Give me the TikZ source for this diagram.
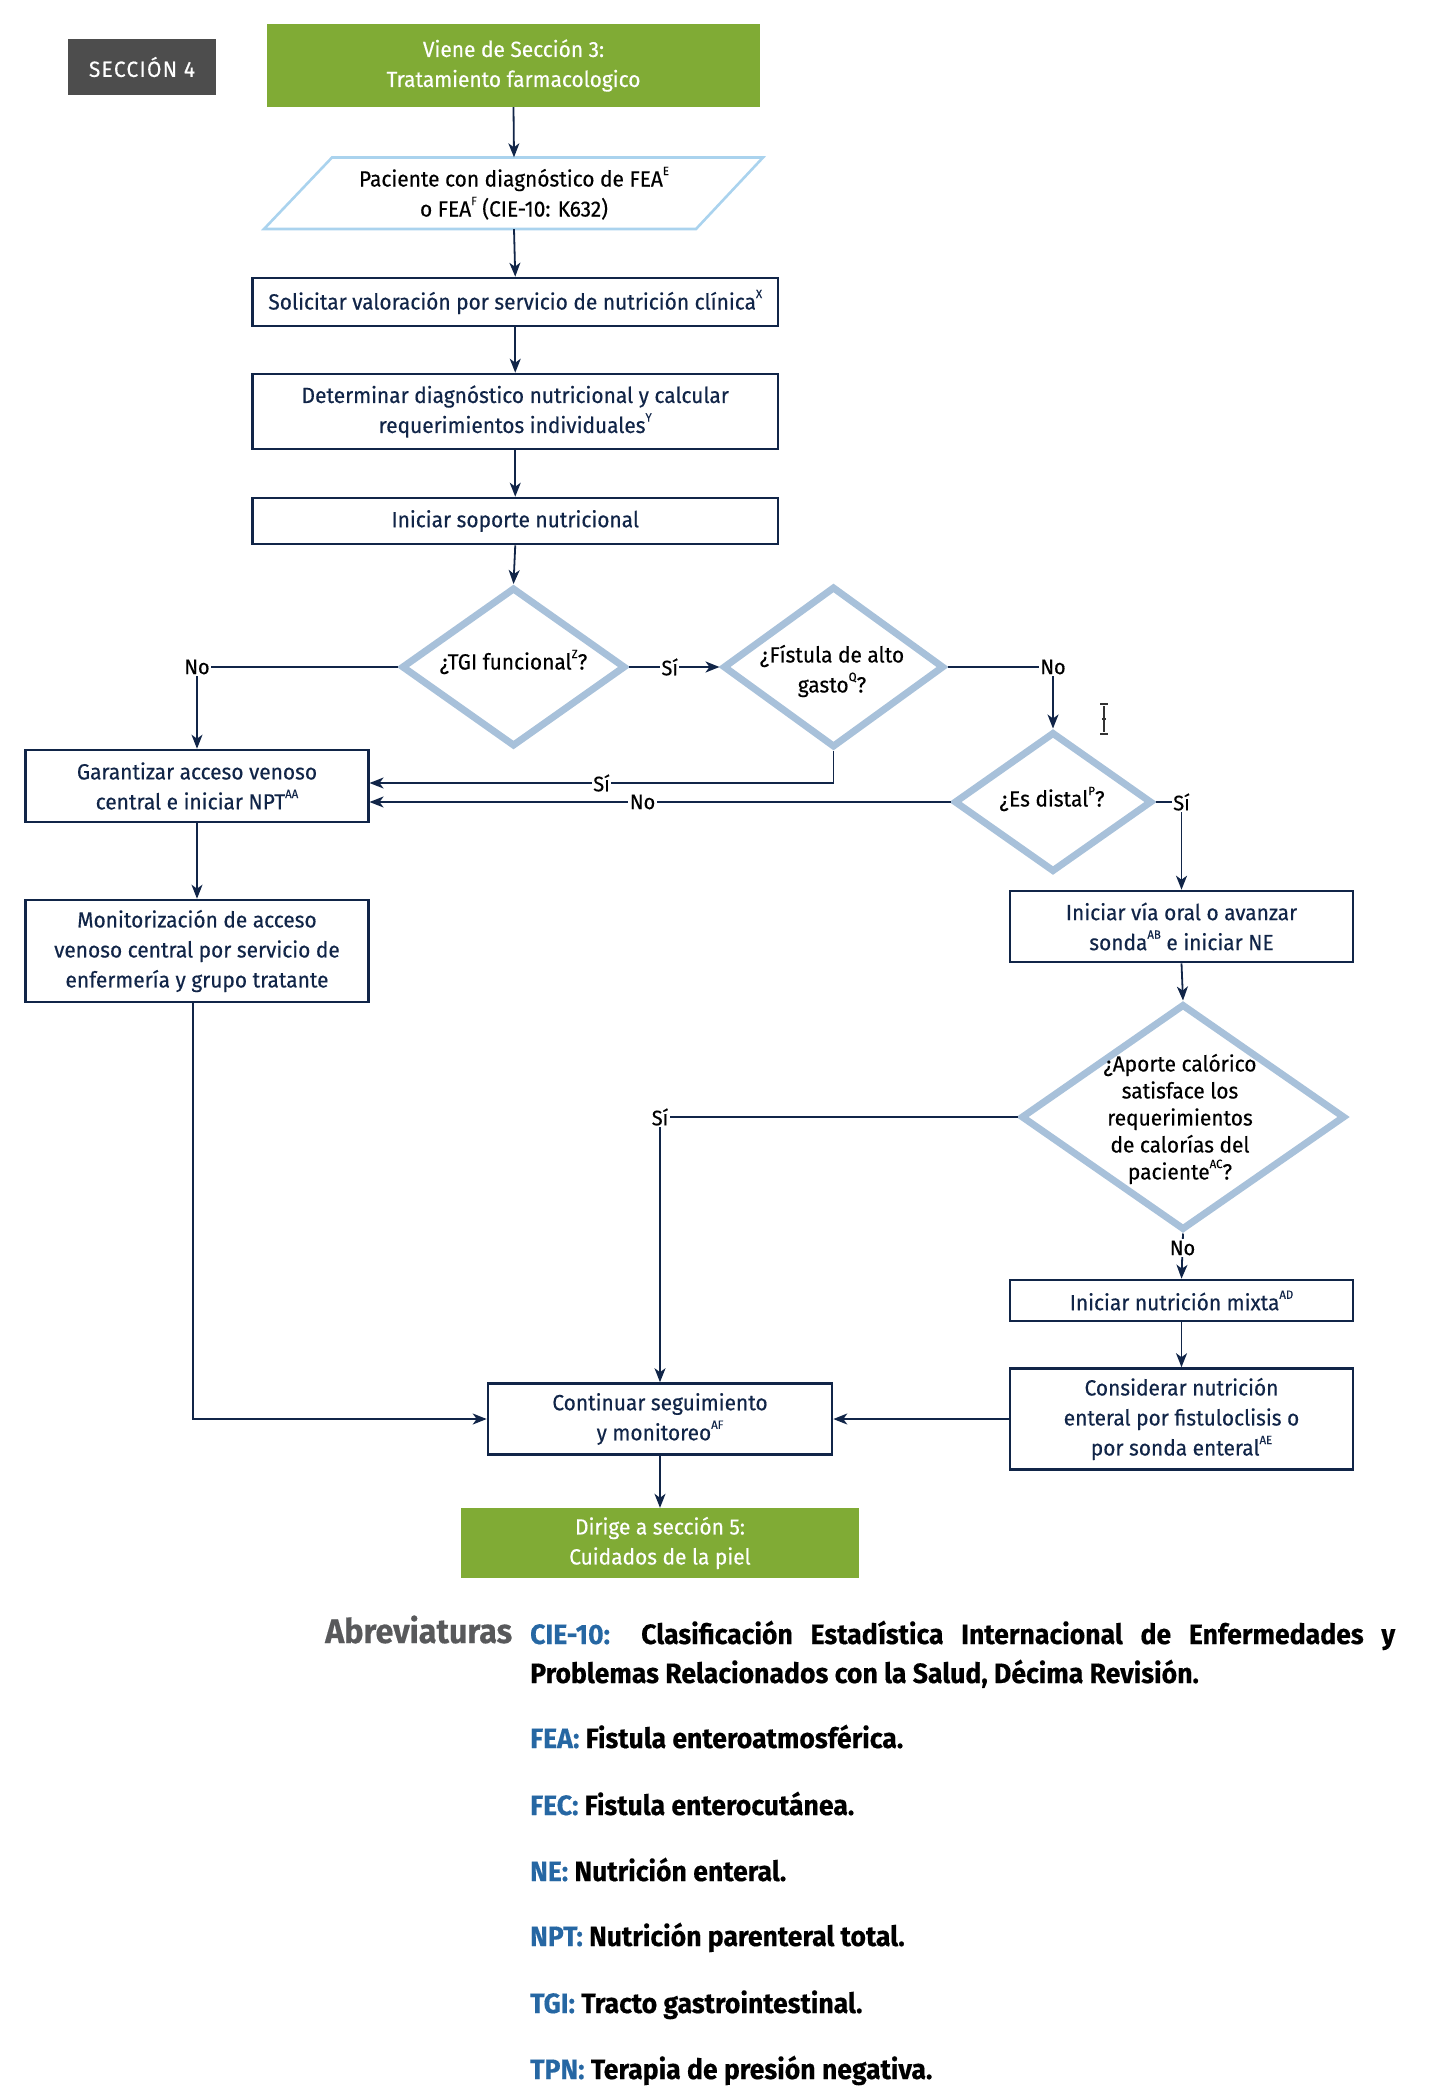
\documentclass[tikz,border=0pt]{standalone}
\usepackage{fontspec}
\setmainfont{Fira Sans}[FakeStretch=0.95,FakeBold=0.4]
\usetikzlibrary{shapes.geometric,arrows.meta,calc}
\definecolor{navy}{RGB}{17,37,72}
\definecolor{dia}{RGB}{168,193,218}
\definecolor{parac}{RGB}{170,211,238}
\definecolor{grn}{RGB}{128,171,53}
\definecolor{secgray}{RGB}{77,77,77}
\definecolor{abblue}{RGB}{38,103,163}
\definecolor{abgray}{RGB}{88,89,91}
\newcommand{\spr}[1]{\raisebox{0.52em}{\fontsize{12}{12}\selectfont #1}}
\begin{document}
\begin{tikzpicture}[x=1pt,y=-1pt,
  every node/.style={font=\fontsize{22}{30}\selectfont},
  box/.style={draw=navy,line width=2.6pt,fill=white,align=center,inner sep=0pt,text=navy},
  gbox/.style={fill=grn,align=center,inner sep=0pt,text=white},
  dshape/.style={diamond,draw=dia,line width=7pt,inner sep=0pt,aspect=1},
  dtext/.style={align=center,inner sep=0pt,text=black},
  arr/.style={draw=navy,line width=1.8pt,-{Stealth[length=14pt,width=11pt,inset=4pt]}},
  lbl/.style={fill=white,inner sep=1.5pt,text=black,font=\fontsize{21}{24}\selectfont},
  abr/.style={anchor=base west,inner sep=0pt,text=black,font=\fontsize{28}{32}\selectfont\bfseries},
]
\useasboundingbox (0,0) rectangle (1430,2100);

% header
\node[gbox,fill=secgray,minimum width=148pt,minimum height=56pt,font=\fontsize{22}{24}\selectfont\addfontfeature{LetterSpace=6}] (sec) at (142,67) {SECCIÓN 4};
\node[gbox,minimum width=493pt,minimum height=83pt] (top) at (513.5,65.5) {Viene de Sección 3:\\Tratamiento farmacologico};

% parallelogram
\draw[draw=parac,line width=2.6pt] (332,157.5) -- (763,157.5) -- (696,229) -- (264,229) -- cycle;
\node[dtext,minimum width=430pt,minimum height=71.5pt] (pat) at (514,193.25) {Paciente con diagnóstico de FEA\spr{E}\\o FEA\spr{F} (CIE-10: K632)};

% boxes
\node[box,minimum width=525.5pt,minimum height=48pt] (sol) at (515.25,302) {Solicitar valoración por servicio de nutrición clínica\spr{X}};
\node[box,minimum width=525.5pt,minimum height=75pt] (det) at (515.25,411.5) {Determinar diagnóstico nutricional y calcular\\requerimientos individuales\spr{Y}};
\node[box,minimum width=525.5pt,minimum height=46pt] (ini) at (515.25,521) {Iniciar soporte nutricional};

% diamonds
\node[dshape,minimum width=224pt,minimum height=159pt] (tgi) at (513.5,667) {};
\node[dtext] (tgit) at (513.5,662) {¿TGI funcional\spr{Z}?};
\node[dshape,minimum width=221pt,minimum height=161pt] (fis) at (833.5,667) {};
\node[dtext] (fist) at (832,671) {¿Fístula de alto\\gasto\spr{Q}?};
\node[dshape,minimum width=198pt,minimum height=140pt] (es) at (1053,802) {};
\node[dtext] (est) at (1052,799) {¿Es distal\spr{P}?};
\node[dshape,minimum width=324pt,minimum height=226pt] (apo) at (1183,1117) {};
\node[dtext,font=\fontsize{22}{27}\selectfont] (apot) at (1180,1119) {¿Aporte calórico\\satisface los\\requerimientos\\de calorías del\\paciente\spr{AC}?};

% left column
\node[box,minimum width=342.5pt,minimum height=72pt] (gar) at (197,786) {Garantizar acceso venoso\\central e iniciar NPT\spr{AA}};
\node[box,minimum width=342.5pt,minimum height=102pt] (mon) at (197,951) {Monitorización de acceso\\venoso central por servicio de\\enfermería y grupo tratante};

% right column
\node[box,minimum width=343pt,minimum height=71pt] (via) at (1181.5,926.5) {Iniciar vía oral o avanzar\\sonda\spr{AB} e iniciar NE};
\node[box,minimum width=343pt,minimum height=41pt] (mix) at (1181.5,1300.5) {Iniciar nutrición mixta\spr{AD}};
\node[box,minimum width=343pt,minimum height=101pt] (cons) at (1181.5,1419) {Considerar nutrición\\enteral por fistuloclisis o\\por sonda enteral\spr{AE}};

% bottom
\node[box,minimum width=344pt,minimum height=71pt] (cont) at (660,1419) {Continuar seguimiento\\y monitoreo\spr{AF}};
\node[gbox,minimum width=398pt,minimum height=70pt] (bot) at (660,1543) {Dirige a sección 5:\\Cuidados de la piel};

% connectors
\draw[arr] (top.south) -- (pat.north);
\draw[arr] (pat.south) -- (sol.north);
\draw[arr] (sol.south) -- (det.north);
\draw[arr] (det.south) -- (ini.north);
\draw[arr] (ini.south) -- (tgi.north);
\draw[arr] (tgi.east) -- node[lbl,pos=0.45]{Sí} (fis.west);
\draw[arr] (tgi.west) -| node[lbl,pos=0.5]{No} (gar.north);
\draw[arr] (fis.east) -| node[lbl,pos=0.5]{No} (es.north);
\draw[arr] (fis.south) |- node[lbl,pos=0.75]{Sí} ([yshift=3pt]gar.east);
\draw[arr] (es.west) -- node[lbl,pos=0.53]{No} ([yshift=-16pt]gar.east);
\draw[arr] (es.east) -| node[lbl,pos=0.5]{Sí} (via.north);
\draw[arr] (gar.south) -- (mon.north);
\draw[arr] ([xshift=-4pt]mon.south) |- (cont.west);
\draw[arr] (via.south) -- (apo.north);
\draw[arr] (apo.west) -| node[lbl,pos=0.5]{Sí} (cont.north);
\draw[arr] (apo.south) -- node[lbl,pos=0.32]{No} (mix.north);
\draw[arr] (mix.south) -- (cons.north);
\draw[arr] (cons.west) -- (cont.east);
\draw[arr] (cont.south) -- (bot.north);

% cursor artifact
\draw[line width=1.6pt,black!80] (1104,706) -- (1104,732) (1100,704) -- (1108,704) (1100,734) -- (1108,734) (1102,719) -- (1106,719);

% abbreviations
\node[anchor=base west,inner sep=0pt,text=abgray,font=\fontsize{34}{38}\selectfont\bfseries] (abrv) at (325,1643) {Abreviaturas};
\node[abr] (cie1) at (530,1644) {\makebox[865pt][s]{\textcolor{abblue}{CIE-10:} Clasificación Estadística Internacional de Enfermedades y}};
\node[abr] (cie2) at (530,1683) {Problemas Relacionados con la Salud, Décima Revisión.};
\node[abr] (fea) at (530,1748) {\textcolor{abblue}{FEA:} Fistula enteroatmosférica.};
\node[abr] (fec) at (530,1815) {\textcolor{abblue}{FEC:} Fistula enterocutánea.};
\node[abr] (ne) at (530,1881) {\textcolor{abblue}{NE:} Nutrición enteral.};
\node[abr] (npt) at (530,1946) {\textcolor{abblue}{NPT:} Nutrición parenteral total.};
\node[abr] (tgiab) at (530,2013) {\textcolor{abblue}{TGI:} Tracto gastrointestinal.};
\node[abr] (tpn) at (530,2079) {\textcolor{abblue}{TPN:} Terapia de presión negativa.};
\end{tikzpicture}
\end{document}
